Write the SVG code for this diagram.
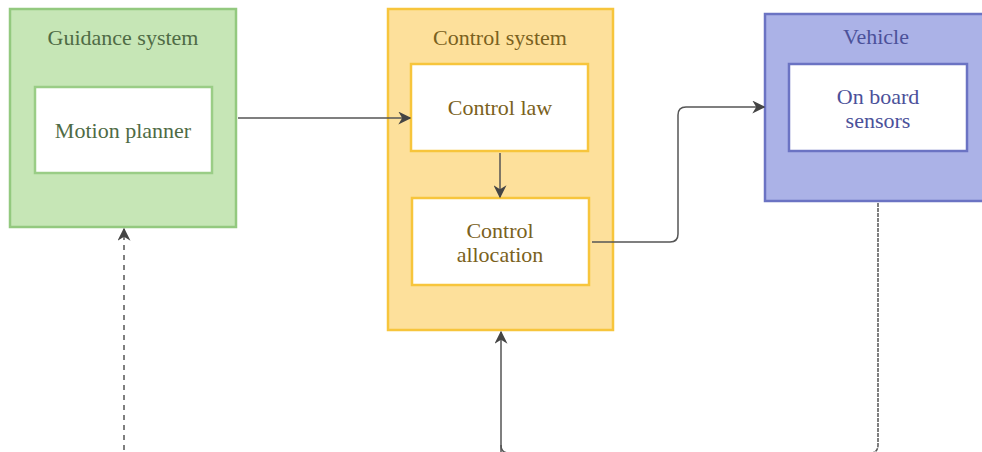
<svg xmlns="http://www.w3.org/2000/svg" width="982" height="452" viewBox="0 0 982 452">
<defs>
<marker id="arr" viewBox="0 0 10 10" refX="9" refY="5" markerWidth="13" markerHeight="13" markerUnits="userSpaceOnUse" orient="auto">
<path d="M0,0 L10,5 L0,10 L3,5 Z" fill="#444"/>
</marker>
<style>
.t{font-family:'Liberation Serif','Times New Roman',serif;font-size:22px;text-anchor:middle}
.conn{fill:none;stroke:#555;stroke-width:1.5}
.g{fill:#c6e6b6;stroke:#93c97f;stroke-width:2.5}
.gi{fill:#fff;stroke:#9acd86;stroke-width:2.5}
.gt{fill:#4f6b45}
.y{fill:#fde09b;stroke:#f7c53c;stroke-width:2.5}
.yi{fill:#fff;stroke:#f7c53c;stroke-width:2.5}
.yt{fill:#7a6120}
.b{fill:#abb2e7;stroke:#6b73c3;stroke-width:2.5}
.bi{fill:#fff;stroke:#6b73c3;stroke-width:2.5}
.bt{fill:#4b519a}
</style>
</defs>
<rect width="982" height="452" fill="#fff"/>
<g id="guidance">
<rect class="g" x="10" y="9" width="226" height="218"/>
<text class="t gt" x="123" y="45">Guidance system</text>
</g>
<g id="motion-planner">
<rect class="gi" x="35" y="87" width="177" height="86"/>
<text class="t gt" x="123" y="138">Motion planner</text>
</g>
<g id="control-system">
<rect class="y" x="388" y="9" width="225" height="321"/>
<text class="t yt" x="500" y="45">Control system</text>
</g>
<g id="control-law">
<rect class="yi" x="411" y="64" width="177" height="87"/>
<text class="t yt" x="500" y="115">Control law</text>
</g>
<g id="control-allocation">
<rect class="yi" x="412" y="198" width="177" height="87"/>
<text class="t yt" x="500" y="238">Control</text>
<text class="t yt" x="500" y="262">allocation</text>
</g>
<g id="vehicle">
<rect class="b" x="765" y="14" width="222" height="187"/>
<text class="t bt" x="876" y="44">Vehicle</text>
</g>
<g id="sensors">
<rect class="bi" x="789" y="64" width="178" height="87"/>
<text class="t bt" x="878" y="104">On board</text>
<text class="t bt" x="878" y="128">sensors</text>
</g>
<g id="connectors">
<path class="conn" d="M238,118 H410" marker-end="url(#arr)"/>
<path class="conn" d="M500,153 V197" marker-end="url(#arr)"/>
<path class="conn" d="M592,242 H670 Q678,242 678,234 V115 Q678,107 686,107 H764" marker-end="url(#arr)"/>
<path class="conn" d="M501,470 V332" marker-end="url(#arr)"/>
<path class="conn" d="M124,470 V229" stroke-dasharray="5,5" marker-end="url(#arr)"/>
<path class="conn" d="M878,203 V445 Q878,453 870,453" stroke-dasharray="4,1"/>
<path class="conn" d="M501,445 Q501,453 509,453"/>
</g>
</svg>
